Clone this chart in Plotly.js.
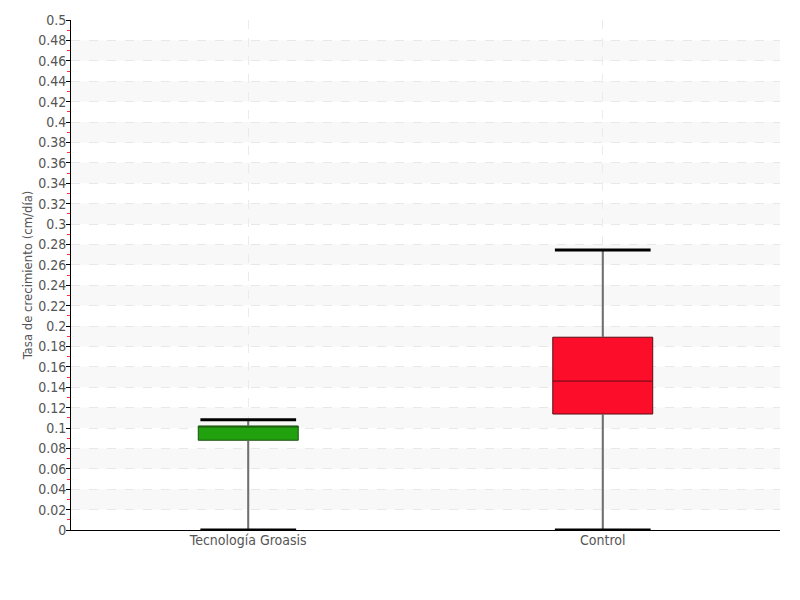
<!DOCTYPE html>
<html>
<head>
<meta charset="utf-8">
<script src="https://cdn.plot.ly/plotly-3.0.1.min.js"></script>
<style>html,body{margin:0;padding:0;background:#fff;}#chart{width:800px;height:600px;}</style>
</head>
<body>
<div id="chart"></div>
<script>
const categories = ["Tecnología Groasis", "Control"];
const q1 = [0.088, 0.1137];
const median = [0.101, 0.146];
const q3 = [0.102, 0.189];
const lowerFence = [0.0, 0.0];
const upperFence = [0.108, 0.2745];
const fillColors = ["#22a10e", "#fc0d2a"];
const borderColors = ["#1c4f12", "#5c0d14"];
const bandEdges = [0.02, 0.06, 0.10, 0.14, 0.18, 0.22, 0.26, 0.30, 0.34, 0.38, 0.42, 0.46];

const FONT = '"DejaVu Sans Condensed", "Liberation Sans Narrow", "Roboto", sans-serif';
const xs = categories.map((c, i) => i);
const traces = [];
categories.forEach((c, i) => {
  traces.push({
    type: 'box', x: [i], q1: [q1[i]], median: [median[i]], q3: [q3[i]],
    lowerfence: [lowerFence[i]], upperfence: [upperFence[i]],
    width: 0.282, whiskerwidth: 0,
    fillcolor: fillColors[i], line: {color: borderColors[i], width: 1},
    showlegend: false, hoverinfo: 'skip'
  });
  traces.push({
    type: 'scatter', mode: 'lines', x: [i, i, null, i, i],
    y: [q3[i], upperFence[i], null, lowerFence[i], q1[i]],
    line: {color: '#707070', width: 2}, showlegend: false, hoverinfo: 'skip'
  });
  const hw = 0.135;
  traces.push({
    type: 'scatter', mode: 'lines',
    x: [i - hw, i + hw, null, i - hw, i + hw],
    y: [upperFence[i], upperFence[i], null, lowerFence[i], lowerFence[i]],
    line: {color: '#000', width: 3}, showlegend: false, hoverinfo: 'skip', cliponaxis: false
  });
});

const shapes = bandEdges.map(b => ({
  type: 'rect', xref: 'paper', yref: 'y', x0: 0, x1: 1, y0: b, y1: b + 0.02,
  fillcolor: '#f8f8f8', line: {width: 0}, layer: 'below'
}));

const layout = {
  width: 800, height: 600,
  margin: {l: 71, r: 20, t: 20, b: 70},
  paper_bgcolor: '#fff', plot_bgcolor: '#fff',
  font: {family: FONT, color: '#555', size: 14},
  showlegend: false,
  shapes: shapes,
  xaxis: {
    range: [-0.5, 1.5], tickvals: xs, ticktext: categories,
    showgrid: true, gridcolor: '#ebebeb', griddash: 'dash', gridwidth: 1,
    showline: true, linecolor: '#000', linewidth: 1, ticks: '', zeroline: false,
    ticklabelstandoff: -3,
    tickfont: {size: 14, color: '#555'}, fixedrange: true
  },
  yaxis: {
    range: [0, 0.5], dtick: 0.02, tick0: 0,
    showgrid: true, gridcolor: '#e8e8e8', griddash: 'dash', gridwidth: 1,
    showline: true, linecolor: '#000', linewidth: 1, zeroline: false,
    ticks: 'outside', ticklen: 4, tickcolor: '#000', tickwidth: 1,
    ticklabelstandoff: -3,
    minor: {dtick: 0.01, tick0: 0, ticks: 'outside', ticklen: 3, tickcolor: '#ff3030', tickwidth: 1, showgrid: false},
    tickfont: {size: 14, color: '#555'},
    title: {text: 'Tasa de crecimiento (cm/día)', font: {size: 13, color: '#555'}, standoff: 2}
  }
};

Plotly.newPlot('chart', traces, layout, {displayModeBar: false, staticPlot: true});
</script>
</body>
</html>
